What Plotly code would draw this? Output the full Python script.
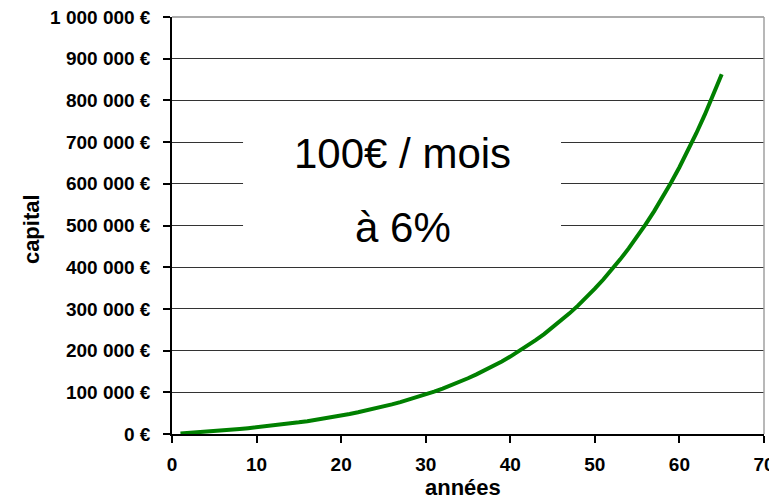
import plotly.graph_objects as go

years = list(range(1, 66))
capital = [1200, 2470, 3820, 5250, 6770, 8370, 10070, 11880, 13790, 15820,
           17970, 20240, 22660, 25220, 27930, 30810, 33860, 37090, 40510, 44140,
           47990, 52070, 56400, 60980, 65840, 70990, 76450, 82230, 88370, 94870,
           101760, 109070, 116810, 125020, 133720, 142950, 152720, 163090, 174070, 185710,
           198060, 211140, 225010, 239710, 255290, 271810, 289320, 307880, 327550, 348400,
           370510, 393940, 418770, 445100, 473010, 502590, 533940, 567180, 602410, 639750,
           679340, 721300, 765780, 812920, 862900]

x_ticks = [0, 10, 20, 30, 40, 50, 60, 70]
y_ticks = [0, 100000, 200000, 300000, 400000, 500000, 600000, 700000, 800000, 900000, 1000000]
y_labels = ["0 €", "100 000 €", "200 000 €", "300 000 €", "400 000 €", "500 000 €",
            "600 000 €", "700 000 €", "800 000 €", "900 000 €", "1 000 000 €"]

FONT = "Liberation Sans, Arial, sans-serif"
TICKFONT = dict(size=19, family=FONT, color="black", weight="bold")

fig = go.Figure()
fig.add_trace(go.Scatter(x=years, y=capital, mode="lines",
                         line=dict(color="#008000", width=4), showlegend=False,
                         hoverinfo="skip"))

fig.update_layout(
    width=769, height=494,
    margin=dict(l=164, r=13, t=9, b=68, autoexpand=False),
    paper_bgcolor="white", plot_bgcolor="white",
    font=dict(family=FONT, color="black"),
    xaxis=dict(range=[0, 70], tickvals=x_ticks, showgrid=False,
               showline=True, linecolor="black", linewidth=1.5,
               ticks="outside", ticklen=7, tickcolor="black", tickwidth=1.5,
               tickfont=TICKFONT, ticklabelstandoff=5, ticklabeloverflow="allow",
               automargin=False, zeroline=False, fixedrange=True),
    yaxis=dict(range=[0, 1000000], tickvals=y_ticks, ticktext=y_labels,
               showgrid=True, gridcolor="#333333", gridwidth=1.2,
               showline=True, linecolor="black", linewidth=1.5,
               ticks="outside", ticklen=7, tickcolor="black", tickwidth=1.5,
               tickfont=TICKFONT, ticklabelstandoff=9, ticklabeloverflow="allow",
               automargin=False, zeroline=False, fixedrange=True),
)

# axis titles
fig.add_annotation(x=-0.238, y=0.4916, xref="paper", yref="paper", text="<b>capital</b>",
                   textangle=-90, showarrow=False, xanchor="center", yanchor="middle",
                   font=dict(size=22, family=FONT, color="black"))
fig.add_annotation(x=0.4916, y=-0.163, xref="paper", yref="paper", text="<b>années</b>",
                   showarrow=False, xanchor="center", yanchor="bottom",
                   font=dict(size=22, family=FONT, color="black"))

# grey top and right border
fig.add_shape(type="line", xref="paper", yref="paper", x0=0, x1=1, y0=1, y1=1,
              line=dict(color="#909090", width=1.5), layer="above")
fig.add_shape(type="line", xref="paper", yref="paper", x0=1, x1=1, y0=0, y1=1,
              line=dict(color="#a0a0a0", width=1.5), layer="above")

# white text box interrupting gridlines
fig.add_shape(type="rect", xref="x", yref="y", x0=8.4, x1=46.0, y0=430000, y1=775000,
              fillcolor="white", line=dict(width=0), layer="above")

fig.add_annotation(x=27.3, y=672000, xref="x", yref="y", text="100€ / mois",
                   showarrow=False, font=dict(size=42, family=FONT, color="black"))
fig.add_annotation(x=27.3, y=495000, xref="x", yref="y", text="à 6%",
                   showarrow=False, font=dict(size=42, family=FONT, color="black"))

fig.write_html("out.html")
